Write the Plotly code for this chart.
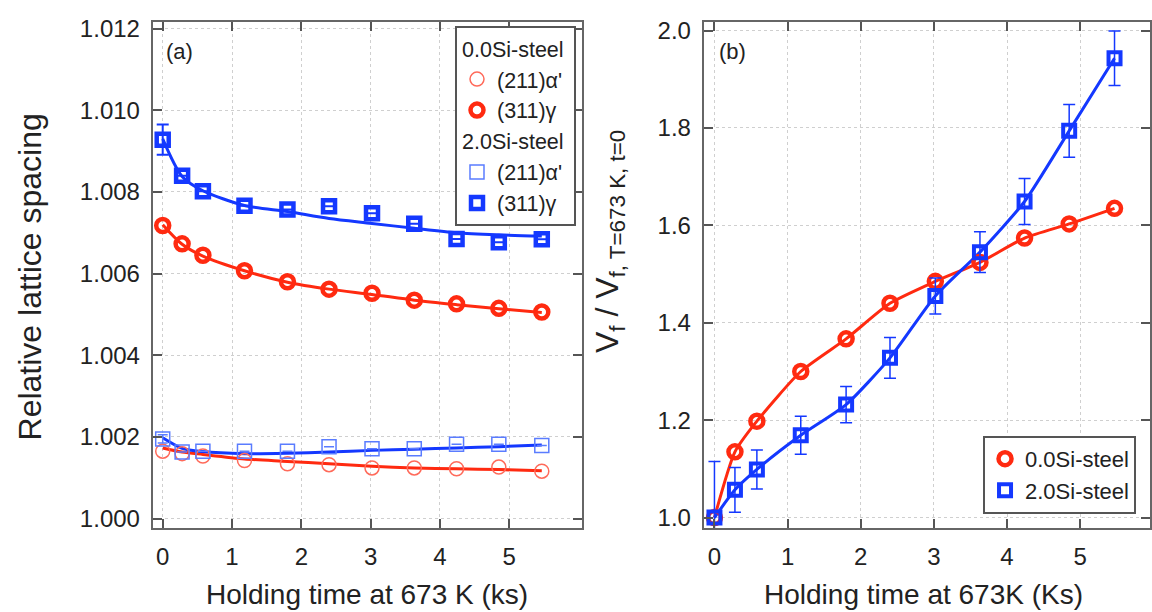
import plotly.graph_objects as go

# ---------------- data ----------------
# holding time (ks)
t = [0, 0.28, 0.58, 1.18, 1.80, 2.40, 3.02, 3.63, 4.24, 4.85, 5.47]

# panel (a): relative lattice spacing
a0_211 = [1.00165, 1.00159, 1.00153, 1.00142, 1.00134, 1.00132, 1.00124, 1.00124, 1.00122, 1.00126, 1.00116]
a0_311 = [1.00718, 1.00673, 1.00645, 1.00607, 1.00580, 1.00562, 1.00552, 1.00535, 1.00526, 1.00515, 1.00506]
a2_211 = [1.00195, 1.00163, 1.00165, 1.00165, 1.00165, 1.00176, 1.00171, 1.00171, 1.00182, 1.00182, 1.00179]
a2_311 = [1.00928, 1.00840, 1.00802, 1.00766, 1.00757, 1.00765, 1.00748, 1.00722, 1.00685, 1.00677, 1.00684]
a2_311_err = [0.00037, 0, 0, 0, 0, 0, 0, 0, 0, 0, 0]
a2_211_err = [0.0001, 0, 0, 0, 0, 0, 0, 0, 0, 0, 0]

# fitted curves read at the same times
f0_211 = [1.00173, 1.00163, 1.00157, 1.00146, 1.00140, 1.00134, 1.00128, 1.00124, 1.00122, 1.00120, 1.00117]
f0_311 = [1.00720, 1.00672, 1.00643, 1.00607, 1.00579, 1.00562, 1.00549, 1.00535, 1.00524, 1.00514, 1.00505]
f2_211 = [1.00198, 1.00172, 1.00164, 1.00159, 1.00160, 1.00163, 1.00167, 1.00170, 1.00173, 1.00176, 1.00180]
f2_311 = [1.00930, 1.00838, 1.00803, 1.00767, 1.00752, 1.00735, 1.00723, 1.00711, 1.00700, 1.00695, 1.00692]

# panel (b): volume fraction ratio
b0 = [1.0, 1.135, 1.198, 1.300, 1.367, 1.440, 1.485, 1.524, 1.574, 1.603, 1.635]
b2 = [1.0, 1.057, 1.099, 1.169, 1.232, 1.328, 1.455, 1.545, 1.649, 1.794, 1.943]
b2_err = [0.115, 0.046, 0.040, 0.039, 0.037, 0.042, 0.037, 0.042, 0.047, 0.054, 0.056]

xticks = [0, 1, 2, 3, 4, 5]
yticks_a = [1.000, 1.002, 1.004, 1.006, 1.008, 1.010, 1.012]
yticks_b = [1.0, 1.2, 1.4, 1.6, 1.8, 2.0]

RED = "#ff2a10"
RED_L = "#ff6a5a"
BLUE = "#1438ff"
BLUE_L = "#5a7cff"
FONT = "Liberation Sans, Arial, Helvetica, sans-serif"

fig = go.Figure()

# ---- panel (a) lines ----
for y, c in [(f0_211, RED), (f2_211, BLUE), (f0_311, RED), (f2_311, BLUE)]:
    fig.add_trace(go.Scatter(x=t, y=y, mode="lines", line=dict(color=c, width=3, shape="spline", smoothing=0.8),
                             showlegend=False, hoverinfo="skip", xaxis="x", yaxis="y"))

# ---- panel (a) markers ----
fig.add_trace(go.Scatter(x=t, y=a0_211, mode="markers", name="(211)α'",
                         marker=dict(symbol="circle-open", size=14, color=RED_L, line=dict(width=1.5)),
                         legendgroup="g0", legendgrouptitle=dict(text="0.0Si-steel"), legend="legend",
                         xaxis="x", yaxis="y"))
fig.add_trace(go.Scatter(x=t, y=a0_311, mode="markers", name="(311)γ",
                         marker=dict(symbol="circle-open", size=13, color=RED, line=dict(width=4.5)),
                         legendgroup="g0", legend="legend", xaxis="x", yaxis="y"))
fig.add_trace(go.Scatter(x=t, y=a2_211, mode="markers", name="(211)α'",
                         marker=dict(symbol="square-open", size=14, color=BLUE_L, line=dict(width=1.5)),
                         error_y=dict(type="data", array=a2_211_err, color=BLUE_L, thickness=1.5, width=5),
                         legendgroup="g2", legendgrouptitle=dict(text="2.0Si-steel"), legend="legend",
                         xaxis="x", yaxis="y"))
fig.add_trace(go.Scatter(x=t, y=a2_311, mode="markers", name="(311)γ",
                         marker=dict(symbol="square-open", size=12, color=BLUE, line=dict(width=4.5)),
                         error_y=dict(type="data", array=a2_311_err, color=BLUE, thickness=2, width=6),
                         legendgroup="g2", legend="legend", xaxis="x", yaxis="y"))

# ---- panel (b) ----
fig.add_trace(go.Scatter(x=t, y=b0, mode="lines", line=dict(color=RED, width=3, shape="spline", smoothing=0.6),
                         showlegend=False, hoverinfo="skip", xaxis="x2", yaxis="y2"))
fig.add_trace(go.Scatter(x=t, y=b2, mode="lines", line=dict(color=BLUE, width=3, shape="spline", smoothing=0.6),
                         showlegend=False, hoverinfo="skip", xaxis="x2", yaxis="y2"))
fig.add_trace(go.Scatter(x=t, y=b0, mode="markers", name="0.0Si-steel",
                         marker=dict(symbol="circle-open", size=13, color=RED, line=dict(width=4.5)),
                         legend="legend2", xaxis="x2", yaxis="y2"))
fig.add_trace(go.Scatter(x=t, y=b2, mode="markers", name="2.0Si-steel",
                         marker=dict(symbol="square-open", size=12, color=BLUE, line=dict(width=4)),
                         error_y=dict(type="data", array=b2_err, color=BLUE, thickness=1.5, width=6),
                         legend="legend2", xaxis="x2", yaxis="y2"))

W, H = 1152, 612
def px(x):
    return x / W
def py(y):
    return (H - y) / H

axis_common = dict(
    showline=True, linecolor="#666", linewidth=2, mirror="ticks",
    ticks="inside", ticklen=9, tickwidth=1.5, tickcolor="#555",
    showgrid=True, gridcolor="#cfcfcf", griddash="dot", gridwidth=1,
    zeroline=False, tickfont=dict(family=FONT, size=24, color="#222"),
    ticklabelstandoff=6,
)

fig.update_layout(
    width=W, height=H,
    margin=dict(l=0, r=0, t=0, b=0),
    paper_bgcolor="white", plot_bgcolor="white",
    font=dict(family=FONT, color="#222"),
    xaxis=dict(domain=[px(153), px(583)], range=[-0.144, 6.05], tickvals=xticks, anchor="y", **axis_common),
    yaxis=dict(domain=[py(530), py(15)], range=[0.99976, 1.01217], tickvals=yticks_a, tickformat=".3f",
               anchor="x", **axis_common),
    xaxis2=dict(domain=[px(705), 1.0], range=[-0.146, 5.955], tickvals=xticks, anchor="y2", **axis_common),
    yaxis2=dict(domain=[py(530), py(15)], range=[0.978, 2.018], tickvals=yticks_b, tickformat=".1f",
                anchor="x2", **axis_common),
    legend=dict(x=px(577), y=py(19), xanchor="right", yanchor="top",
                bordercolor="#555", borderwidth=2, bgcolor="white",
                font=dict(family=FONT, size=21.5, color="#222"),
                grouptitlefont=dict(family=FONT, size=21.5, color="#222"),
                tracegroupgap=0, itemwidth=30),
    legend2=dict(x=px(1138), y=py(436), xanchor="right", yanchor="top",
                 bordercolor="#555", borderwidth=2, bgcolor="white",
                 font=dict(family=FONT, size=22, color="#222"), itemwidth=30),
    showlegend=True,
    annotations=[
        dict(text="(a)", x=px(164), y=py(45), xref="paper", yref="paper", xanchor="left", yanchor="middle",
             showarrow=False, font=dict(family=FONT, size=22, color="#222")),
        dict(text="(b)", x=px(718), y=py(45), xref="paper", yref="paper", xanchor="left", yanchor="middle",
             showarrow=False, font=dict(family=FONT, size=22, color="#222")),
        dict(text="Holding time at 673 K (ks)", x=px(368), y=py(597), xref="paper", yref="paper",
             xanchor="center", yanchor="middle", showarrow=False, font=dict(family=FONT, size=28, color="#222")),
        dict(text="Holding time at 673K (Ks)", x=px(925), y=py(597), xref="paper", yref="paper",
             xanchor="center", yanchor="middle", showarrow=False, font=dict(family=FONT, size=28, color="#222")),
        dict(text="Relative lattice spacing", x=px(30), y=py(274), xref="paper", yref="paper",
             xanchor="center", yanchor="middle", textangle=-90, showarrow=False,
             font=dict(family=FONT, size=32, color="#222")),
        dict(text="V<sub>f</sub> / V<sub>f, T=673 K, t=0</sub>", x=px(610), y=py(238), xref="paper", yref="paper",
             xanchor="center", yanchor="middle", textangle=-90, showarrow=False,
             font=dict(family=FONT, size=32, color="#222")),
    ],
)

fig.write_html("out.html")
